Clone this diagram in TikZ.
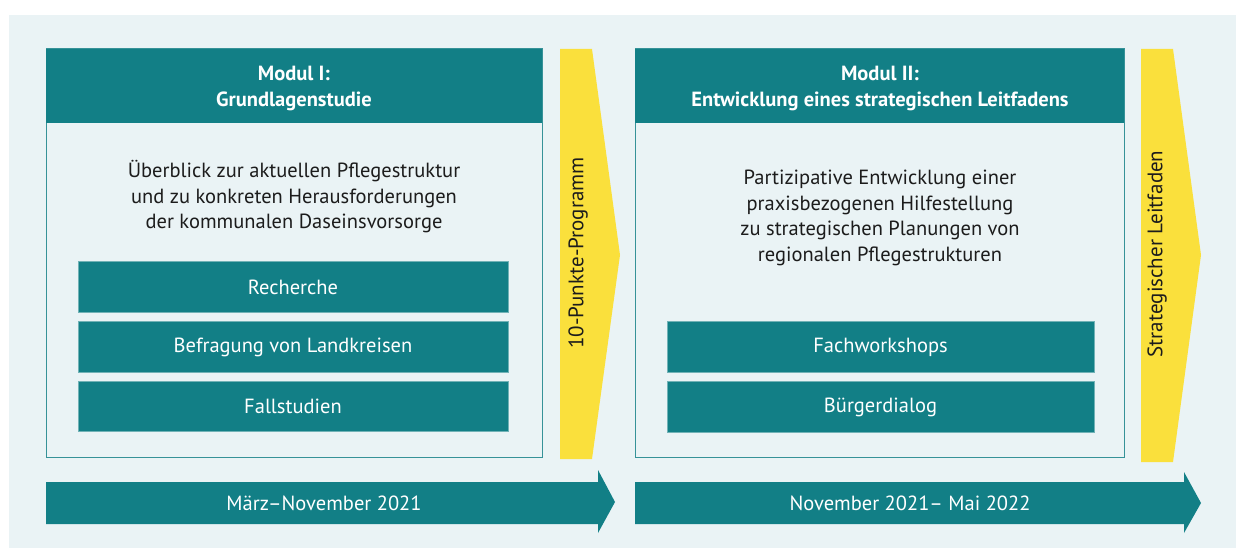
\documentclass[tikz,border=0pt]{standalone}
\usepackage{fontspec}
\setmainfont{PT Sans}
\usepackage{tikz}
\definecolor{modteal}{RGB}{18,127,134}
\definecolor{markyellow}{RGB}{250,224,60}
\definecolor{backblue}{RGB}{234,243,245}
\definecolor{textdark}{RGB}{28,28,28}
\tikzset{
  modframe/.style={draw=modteal!85, line width=1pt},
  headbar/.style={fill=modteal},
  headtext/.style={text=white, font=\bfseries\fontsize{20.5}{26}\selectfont, align=center},
  bodytext/.style={text=textdark, font=\fontsize{20.5}{25.5}\selectfont, align=center},
  workbox/.style={fill=modteal, draw=modteal!60, line width=0.6pt, text=white,
    font=\fontsize{20.5}{22}\selectfont, inner sep=0pt},
  yellowmark/.style={fill=markyellow},
  sidetext/.style={text=textdark, font=\fontsize{21}{22}\selectfont, rotate=90},
  datearrow/.style={fill=modteal},
  datetext/.style={text=white, font=\fontsize{20.5}{22}\selectfont}
}

\begin{document}
\begin{tikzpicture}[x=1pt,y=-1pt]
    \useasboundingbox (0,0) rectangle (1236,548);
    % draw background
    \fill[backblue] (9,15) rectangle (1236,548);

    % draw Modul I
    \draw[modframe] (46,49) rectangle (542,457);
    \fill[headbar] (46,49) rectangle (542,123);
    \node[headtext] (head1) at (294,88.5) {Modul I:\\Grundlagenstudie};
    \node[bodytext] (body1) at (294,197) {Überblick zur aktuellen Pflegestruktur\\und zu konkreten Herausforderungen\\der kommunalen Daseinsvorsorge};
    \node[workbox, minimum width=430, minimum height=51] (recherche) at (293,287) {Recherche};
    \node[workbox, minimum width=430, minimum height=51] (befragung) at (293,347) {Befragung von Landkreisen};
    \node[workbox, minimum width=430, minimum height=50] (fallstudien) at (293,406.5) {Fallstudien};

    % draw Modul II
    \draw[modframe] (635,49) rectangle (1124,457);
    \fill[headbar] (635,49) rectangle (1124,123);
    \node[headtext] (head2) at (880,88.5) {Modul II:\\Entwicklung eines strategischen Leitfadens};
    \node[bodytext] (body2) at (880,218) {Partizipative Entwicklung einer\\praxisbezogenen Hilfestellung\\zu strategischen Planungen von\\regionalen Pflegestrukturen};
    \node[workbox, minimum width=427, minimum height=51] (workshops) at (880.5,347) {Fachworkshops};
    \node[workbox, minimum width=427, minimum height=51] (dialog) at (880.5,407) {Bürgerdialog};

    % draw yellow markers
    \fill[yellowmark] (560,49) -- (592,49) -- (620,255) -- (592,459) -- (560,459) -- cycle;
    \node[sidetext] (programm) at (578,253) {10-Punkte-Programm};
    \fill[yellowmark] (1141,49) -- (1173,49) -- (1201,255) -- (1173,462) -- (1141,462) -- cycle;
    \node[sidetext] (leitfaden) at (1157,254) {Strategischer Leitfaden};

    % draw time arrows
    \fill[datearrow] (46,482) -- (598,482) -- (598,470) -- (615,502) -- (598,533) -- (598,524) -- (46,524) -- cycle;
    \node[datetext] (zeit1) at (324,503) {März–November 2021};
    \fill[datearrow] (635,482) -- (1184,482) -- (1184,472) -- (1201,503) -- (1184,533) -- (1184,524) -- (635,524) -- cycle;
    \node[datetext] (zeit2) at (910,503) {November 2021– Mai 2022};
\end{tikzpicture}
\end{document}
